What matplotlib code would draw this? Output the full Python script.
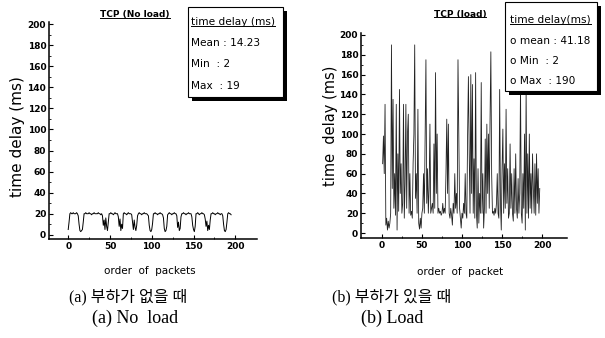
import matplotlib
matplotlib.use("Agg")
import matplotlib.pyplot as plt
from matplotlib.patches import Rectangle
from matplotlib.lines import Line2D

# TCP delay without load: packet order 0..195, delay in ms
noload_x = list(range(0, 196))
noload_y = [
    5, 12, 20, 21, 20, 20, 21, 20, 20, 20,
    21, 20, 18, 10, 4, 3, 4, 5, 12, 20,
    20, 21, 20, 20, 20, 21, 20, 20, 19, 20,
    20, 21, 20, 20, 20, 20, 21, 20, 20, 19,
    20, 18, 9, 14, 5, 16, 8, 4, 12, 20,
    20, 21, 20, 20, 19, 20, 21, 20, 20, 20,
    17, 8, 15, 4, 10, 6, 20, 21, 20, 20,
    19, 20, 21, 20, 20, 20, 19, 12, 5, 14,
    7, 4, 9, 18, 20, 21, 20, 20, 19, 20,
    20, 21, 20, 20, 20, 19, 18, 9, 4, 3,
    5, 11, 20, 20, 21, 20, 20, 19, 20, 20,
    21, 20, 20, 19, 16, 6, 3, 4, 8, 19,
    20, 21, 20, 20, 19, 20, 20, 21, 20, 20,
    18, 7, 12, 4, 6, 17, 20, 20, 21, 20,
    20, 19, 20, 20, 21, 20, 20, 20, 17, 9,
    5, 3, 8, 20, 20, 21, 20, 19, 20, 20,
    21, 20, 20, 19, 15, 8, 13, 4, 9, 5,
    14, 20, 20, 21, 20, 20, 19, 20, 20, 21,
    20, 20, 19, 20, 20, 18, 10, 4, 3, 5,
    12, 20, 21, 20, 20, 19,
]

# TCP delay with load: packet order 1..197
load_x = list(range(1, 198))
load_y = [
    70, 98, 60, 130, 8, 15, 3, 12, 5, 10,
    20, 190, 45, 135, 25, 60, 18, 130, 3, 80,
    22, 145, 40, 70, 20, 30, 130, 15, 50, 130,
    25, 100, 120, 20, 60, 18, 22, 15, 70, 100,
    190, 35, 60, 20, 125, 10, 4, 15, 5, 20,
    25, 60, 20, 100, 175, 30, 65, 20, 45, 110,
    20, 25, 30, 20, 90, 25, 162, 40, 100, 20,
    25, 20, 22, 18, 20, 30, 20, 25, 20, 60,
    115, 40, 110, 20, 15, 25, 18, 8, 30, 20,
    60, 25, 40, 20, 175, 97, 25, 15, 5, 20,
    15, 30, 20, 60, 20, 15, 100, 158, 80, 20,
    160, 40, 150, 20, 75, 15, 162, 20, 5, 65,
    10, 40, 20, 152, 20, 60, 5, 25, 95, 20,
    110, 40, 100, 25, 115, 183, 60, 20, 22, 18,
    25, 20, 30, 60, 20, 15, 145, 30, 3, 65,
    105, 20, 70, 25, 125, 30, 65, 15, 20, 90,
    25, 60, 20, 12, 65, 20, 80, 25, 15, 55,
    20, 40, 150, 20, 10, 60, 25, 100, 3, 145,
    20, 80, 15, 100, 25, 60, 20, 80, 45, 20,
    70, 18, 80, 30, 65, 20, 45,
]

noload_stats = ["time delay (ms)", "Mean : 14.23", "Min  : 2", "Max  : 19"]
load_stats = ["time delay(ms)", "o mean : 41.18", "o Min  : 2", "o Max  : 190"]

W, H = 605, 338
fig = plt.figure(figsize=(W / 100, H / 100), dpi=100)


def fx(x):
    return x / W


def fy(y):
    return 1 - y / H


tick_font = dict(family="DejaVu Sans", weight="bold", size=6.5)
cap_font = ["Liberation Serif", "Noto Sans CJK KR"]


def setup(ax, xlim, ylim):
    ax.set_xlim(*xlim)
    ax.set_ylim(*ylim)
    for s in ("top", "right"):
        ax.spines[s].set_visible(False)
    ax.spines["left"].set_linewidth(1.1)
    ax.spines["bottom"].set_linewidth(1.1)
    ax.set_xticks([0, 50, 100, 150, 200])
    ax.set_xticks([25, 75, 125, 175], minor=True)
    ax.set_yticks(range(0, 201, 20))
    ax.set_yticks(range(10, 200, 20), minor=True)
    ax.tick_params(direction="in", length=3, width=0.8, pad=2)
    ax.tick_params(which="minor", direction="in", length=1.5, width=0.6)
    for lab in ax.get_xticklabels() + ax.get_yticklabels():
        lab.set_fontfamily(tick_font["family"])
        lab.set_fontweight("bold")
        lab.set_fontsize(tick_font["size"])


ax1 = fig.add_axes([fx(49), fy(239), fx(208), (239 - 22) / H])
ax1.plot(noload_x, noload_y, color="black", lw=0.7)
setup(ax1, (-23, 226), (-4, 202))

ax2 = fig.add_axes([fx(361), fy(238), fx(206), (238 - 33) / H])
ax2.plot(load_x, load_y, color="#222222", lw=0.6)
setup(ax2, (-26, 231), (-5, 202))

# axis labels
fig.text(fx(18), fy(137), "time delay (ms)", rotation=90, ha="center", va="center", fontsize=11)
fig.text(fx(330), fy(126), "time  delay (ms)", rotation=90, ha="center", va="center", fontsize=10.5)
fig.text(fx(150), fy(271), "order  of  packets", ha="center", va="center", fontsize=7.5)
fig.text(fx(460), fy(272), "order  of  packet", ha="center", va="center", fontsize=7.5)

titles = [
    fig.text(fx(135), fy(15), "TCP (No load)", ha="center", va="center", **tick_font),
    fig.text(fx(460), fy(14), "TCP (load)", ha="center", va="center", **tick_font),
]


def stat_box(x0, y0, x1, y1, tx, rows_y, lines):
    # drop shadow, then white box with thin outline
    fig.add_artist(Rectangle((fx(x0 + 4), fy(y1 + 4)), fx(x1 - x0), (y1 - y0) / H,
                             transform=fig.transFigure, facecolor="black", edgecolor="none", zorder=5))
    fig.add_artist(Rectangle((fx(x0), fy(y1)), fx(x1 - x0), (y1 - y0) / H,
                             transform=fig.transFigure, facecolor="white", edgecolor="black",
                             lw=0.8, zorder=6))
    texts = []
    for ty, s in zip(rows_y, lines):
        texts.append(fig.text(fx(tx), fy(ty), s, ha="left", va="center", fontsize=7.6,
                              family="DejaVu Sans", zorder=7))
    return texts


box1 = stat_box(188, 7, 283, 97, 191, [22, 43, 64, 86], noload_stats)
box2 = stat_box(505, 2, 597, 91, 510, [20, 41, 61, 81], load_stats)

# captions
fig.text(fx(128), fy(297), "(a) 부하가 없을 때", ha="center", va="center", fontsize=11.5, family=cap_font)
fig.text(fx(135), fy(318), "(a) No  load", ha="center", va="center", fontsize=13, family=cap_font)
fig.text(fx(392), fy(297), "(b) 부하가 있을 때", ha="center", va="center", fontsize=11.5, family=cap_font)
fig.text(fx(392), fy(318), "(b) Load", ha="center", va="center", fontsize=13, family=cap_font)

# underline the chart titles and the box headers
fig.canvas.draw()
renderer = fig.canvas.get_renderer()
inv = fig.transFigure.inverted()
for t in titles + [box1[0], box2[0]]:
    bb = t.get_window_extent(renderer).transformed(inv)
    fig.add_artist(Line2D([bb.x0, bb.x1], [bb.y0 + 0.004, bb.y0 + 0.004], color="black",
                          lw=0.7, transform=fig.transFigure, zorder=8))

fig.savefig("out.png", dpi=100)
